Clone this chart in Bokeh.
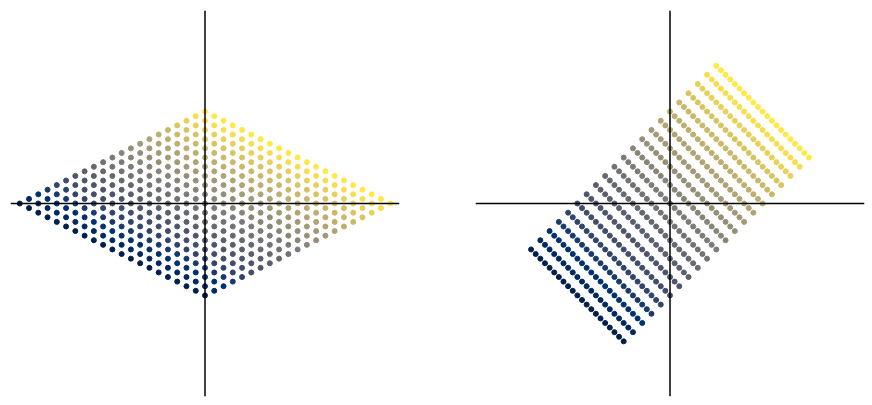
import numpy as np
from bokeh.plotting import figure
from bokeh.models import ColumnDataSource, Span, Range1d
from bokeh.layouts import row
from bokeh.palettes import Cividis256
from bokeh.transform import linear_cmap
from bokeh.embed import file_html
from bokeh.resources import INLINE

# grid coordinates of the original square lattice (21 x 21)
grid_vals = [-1.0, -0.9, -0.8, -0.7, -0.6, -0.5, -0.4, -0.3, -0.2, -0.1, 0.0,
             0.1, 0.2, 0.3, 0.4, 0.5, 0.6, 0.7, 0.8, 0.9, 1.0]

# linear maps applied to the lattice: columns are images of e_u and e_v
matrix_left = [[1.0, 1.0],
               [-0.5, 0.5]]
matrix_right = [[0.5, 1.0],
                [-0.5, 1.0]]

u, v = np.meshgrid(grid_vals, grid_vals)
u = u.ravel()
v = v.ravel()


def make_panel(m, left_border, right_border):
    pts = np.array(m) @ np.vstack([u, v])
    source = ColumnDataSource(data=dict(x=pts[0], y=pts[1], c=v))

    p = figure(width=left_border + 389 + right_border, height=398,
               x_range=Range1d(-2.1, 2.1), y_range=Range1d(-2.1, 2.1),
               output_backend="svg", toolbar_location=None,
               min_border_left=left_border, min_border_right=right_border,
               min_border_top=10, min_border_bottom=2)
    p.axis.visible = False
    p.grid.visible = False
    p.outline_line_color = None

    # axes through the origin
    p.add_layout(Span(location=0, dimension="width", line_color="black", line_width=1.5))
    p.add_layout(Span(location=0, dimension="height", line_color="black", line_width=1.5))

    cmap = linear_cmap("c", Cividis256, low=-1, high=1)
    p.scatter("x", "y", source=source, size=5, fill_color=cmap, line_color=cmap)
    return p


p1 = make_panel(matrix_left, 10, 38)
p2 = make_panel(matrix_right, 38, 1)

p = row(p1, p2)

open("out.html", "w").write(file_html(p, INLINE))
